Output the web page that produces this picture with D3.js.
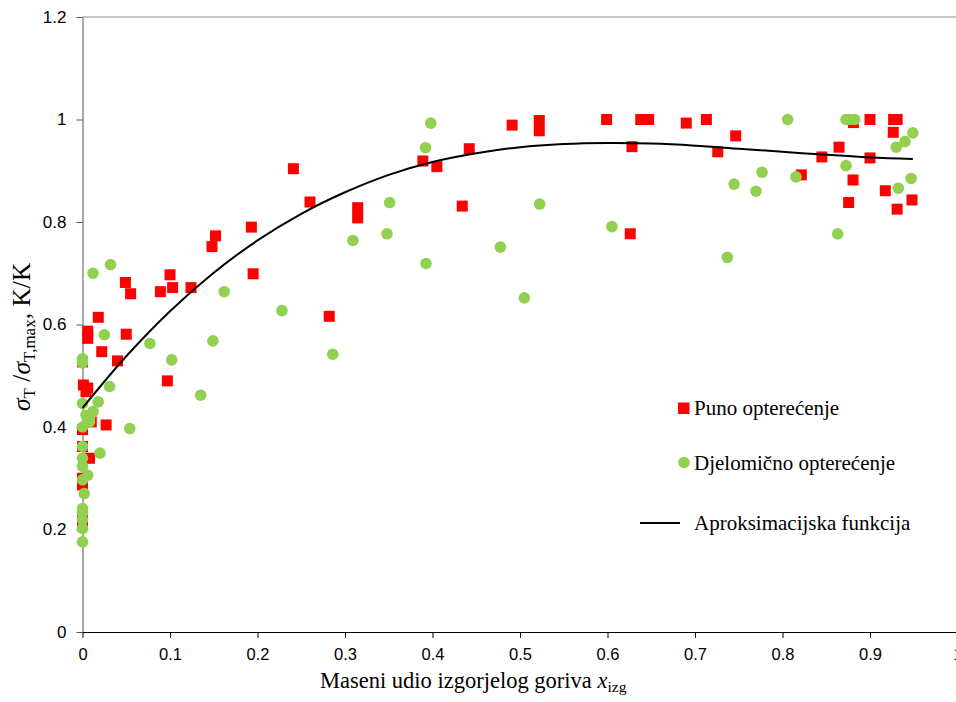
<!DOCTYPE html>
<html>
<head>
<meta charset="utf-8">
<script src="https://cdn.jsdelivr.net/npm/d3@7"></script>
<style>
  html, body { margin: 0; padding: 0; background: #fff; overflow: hidden; }
  svg { display: block; }
</style>
</head>
<body>
<svg id="chart" width="956" height="702"></svg>
<script>
// ---- data ----
const xTicks = [0, 0.1, 0.2, 0.3, 0.4, 0.5, 0.6, 0.7, 0.8, 0.9, 1];
const xTickLabels = ["0", "0.1", "0.2", "0.3", "0.4", "0.5", "0.6", "0.7", "0.8", "0.9", "1"];
const yTicks = [0, 0.2, 0.4, 0.6, 0.8, 1, 1.2];
const yTickLabels = ["0", "0.2", "0.4", "0.6", "0.8", "1", "1.2"];

// Puno opterećenje (full load) [x_izg, sigma ratio]
const punoX = [0, 0, 0, 0, 0.008, 0, 0, 0.01, 0.027, 0.004, 0.001, 0.006, 0, 0.04, 0.022, 0.05, 0.006, 0.006, 0.018,
  0.055, 0.049, 0.089, 0.103, 0.1, 0.124, 0.097, 0.148, 0.152, 0.193, 0.195, 0.241, 0.26, 0.282, 0.3145, 0.3145,
  0.389, 0.405, 0.434, 0.442, 0.491, 0.522, 0.522, 0.599, 0.626, 0.628, 0.638, 0.647, 0.69, 0.713, 0.726, 0.7465,
  0.8215, 0.845, 0.8646, 0.8756, 0.8806, 0.881, 0.9, 0.9, 0.9175, 0.9266, 0.927, 0.931, 0.931, 0.948];
const punoY = [0.212, 0.219, 0.287, 0.30, 0.339, 0.362, 0.395, 0.41, 0.404, 0.469, 0.482, 0.476, 0.527, 0.529, 0.547, 0.581, 0.573, 0.587, 0.614,
  0.66, 0.682, 0.664, 0.672, 0.697, 0.672, 0.49, 0.752, 0.773, 0.79, 0.699, 0.904, 0.839, 0.616, 0.828, 0.808,
  0.919, 0.908, 0.831, 0.943, 0.989, 0.998, 0.978, 1.0, 0.777, 0.947, 1.0, 1.0, 0.993, 1.0, 0.937, 0.968,
  0.892, 0.927, 0.946, 0.838, 0.882, 0.994, 1.0, 0.925, 0.861, 0.975, 1.0, 1.0, 0.825, 0.843];

// Djelomično opterećenje (partial load)
const djelX = [0, 0, 0, 0, 0, 0.002, 0, 0.006, 0, 0, 0.02, 0, 0, 0.008, 0.054, 0.008, 0.004, 0.012, 0, 0.018,
  0.031, 0, 0, 0.025, 0.012, 0.032, 0.077, 0.102, 0.135, 0.149, 0.162, 0.228, 0.286, 0.309, 0.348, 0.351,
  0.392, 0.398, 0.3926, 0.4775, 0.505, 0.5225, 0.605, 0.737, 0.7446, 0.7697, 0.7766, 0.806, 0.8154, 0.863,
  0.8726, 0.8726, 0.877, 0.8825, 0.93, 0.9324, 0.94, 0.947, 0.949];
const djelY = [0.176, 0.202, 0.219, 0.232, 0.241, 0.27, 0.297, 0.306, 0.323, 0.339, 0.349, 0.362, 0.40, 0.41, 0.397, 0.417, 0.423, 0.43, 0.446, 0.449,
  0.479, 0.525, 0.533, 0.58, 0.70, 0.717, 0.563, 0.531, 0.462, 0.568, 0.664, 0.627, 0.542, 0.764, 0.777, 0.838,
  0.945, 0.993, 0.719, 0.751, 0.652, 0.835, 0.791, 0.731, 0.874, 0.86, 0.897, 1.0, 0.888, 0.777,
  0.91, 1.0, 1.0, 1.0, 0.946, 0.866, 0.957, 0.885, 0.974];

// Aproksimacijska funkcija
const fitX = [0, 0.05, 0.1, 0.15, 0.2, 0.25, 0.3, 0.35, 0.4, 0.45, 0.5, 0.55, 0.6, 0.65, 0.7, 0.75, 0.8, 0.85, 0.9, 0.949];
const fitY = [0.437, 0.538, 0.626, 0.701, 0.764, 0.816, 0.858, 0.892, 0.917, 0.934, 0.946, 0.952, 0.954, 0.953, 0.949, 0.943, 0.937, 0.931, 0.926, 0.923];

const legendLabels = ["Puno opterećenje", "Djelomično opterećenje", "Aproksimacijska funkcija"];

// ---- layout ----
const svg = d3.select("#chart");
const mLeft = 82.5, mRight = 957.5, mTop = 17, mBottom = 632;
const x = d3.scaleLinear().domain([0, 1]).range([mLeft, mRight]);
const y = d3.scaleLinear().domain([0, 1.2]).range([mBottom, mTop]);
const sans = "'Liberation Sans', Arial, sans-serif";
const serif = "'Liberation Serif', 'Times New Roman', serif";

// top border of plot area
svg.append("line").attr("x1", mLeft).attr("x2", mRight).attr("y1", y(1.2)).attr("y2", y(1.2))
  .attr("stroke", "#8c8c8c").attr("stroke-width", 1);

// y axis
const yAxis = svg.append("g").attr("transform", `translate(${mLeft},0)`)
  .call(d3.axisLeft(y).tickValues(yTicks).tickSize(6).tickSizeOuter(0).tickPadding(10)
    .tickFormat((d, i) => yTickLabels[i]));
yAxis.select(".domain").attr("stroke", "#555");
yAxis.selectAll(".tick line").attr("stroke", "#555");
yAxis.selectAll("text").attr("font-family", sans).attr("font-size", 17).attr("fill", "#000");

// x axis
const xAxis = svg.append("g").attr("transform", `translate(0,${mBottom})`)
  .call(d3.axisBottom(x).tickValues(xTicks).tickSize(6).tickSizeOuter(0).tickPadding(10)
    .tickFormat((d, i) => xTickLabels[i]));
xAxis.select(".domain").attr("stroke", "#000");
xAxis.selectAll(".tick line").attr("stroke", "#000");
xAxis.selectAll("text").attr("font-family", sans).attr("font-size", 16.5).attr("fill", "#000");

// scatter: red squares
const sq = 11;
svg.append("g").selectAll("rect").data(d3.range(punoX.length)).join("rect")
  .attr("x", i => x(punoX[i]) - sq / 2).attr("y", i => y(punoY[i]) - sq / 2)
  .attr("width", sq).attr("height", sq).attr("fill", "#ff0000");

// scatter: green circles
svg.append("g").selectAll("circle").data(d3.range(djelX.length)).join("circle")
  .attr("cx", i => x(djelX[i])).attr("cy", i => y(djelY[i])).attr("r", 5.8)
  .attr("fill", "#92d050");

// fit curve
const line = d3.line().x(i => x(fitX[i])).y(i => y(fitY[i])).curve(d3.curveCatmullRom);
svg.append("path").datum(d3.range(fitX.length)).attr("d", line)
  .attr("fill", "none").attr("stroke", "#000").attr("stroke-width", 2);

// legend
const lg = svg.append("g").attr("font-family", serif).attr("font-size", 21).attr("fill", "#000");
lg.append("rect").attr("x", 678).attr("y", 402.5).attr("width", 11.5).attr("height", 11.5).attr("fill", "#ff0000");
lg.append("text").attr("x", 694).attr("y", 415).text(legendLabels[0]);
lg.append("circle").attr("cx", 684).attr("cy", 462.5).attr("r", 5.8).attr("fill", "#92d050");
lg.append("text").attr("x", 694).attr("y", 469.5).text(legendLabels[1]);
lg.append("line").attr("x1", 640).attr("x2", 680).attr("y1", 523).attr("y2", 523).attr("stroke", "#000").attr("stroke-width", 2);
lg.append("text").attr("x", 694).attr("y", 530).text(legendLabels[2]);

// x axis title
const xt = svg.append("text").attr("x", 320).attr("y", 688)
  .attr("font-family", serif).attr("font-size", 22.5).attr("fill", "#000");
xt.append("tspan").text("Maseni udio izgorjelog goriva ");
xt.append("tspan").attr("font-style", "italic").text("x");
xt.append("tspan").attr("font-size", 15.5).attr("dy", 4).text("izg");

// y axis title
const yt = svg.append("text").attr("transform", "translate(30,411) rotate(-90)")
  .attr("font-family", serif).attr("font-size", 25.5).attr("fill", "#000");
yt.append("tspan").attr("font-style", "italic").text("σ");
yt.append("tspan").attr("font-size", 17).attr("dy", 5).text("T");
yt.append("tspan").attr("dy", -5).text(" /");
yt.append("tspan").attr("font-style", "italic").text("σ");
yt.append("tspan").attr("font-size", 17).attr("dy", 5).text("T,max");
yt.append("tspan").attr("dy", -5).text(", K/K");
</script>
</body>
</html>
